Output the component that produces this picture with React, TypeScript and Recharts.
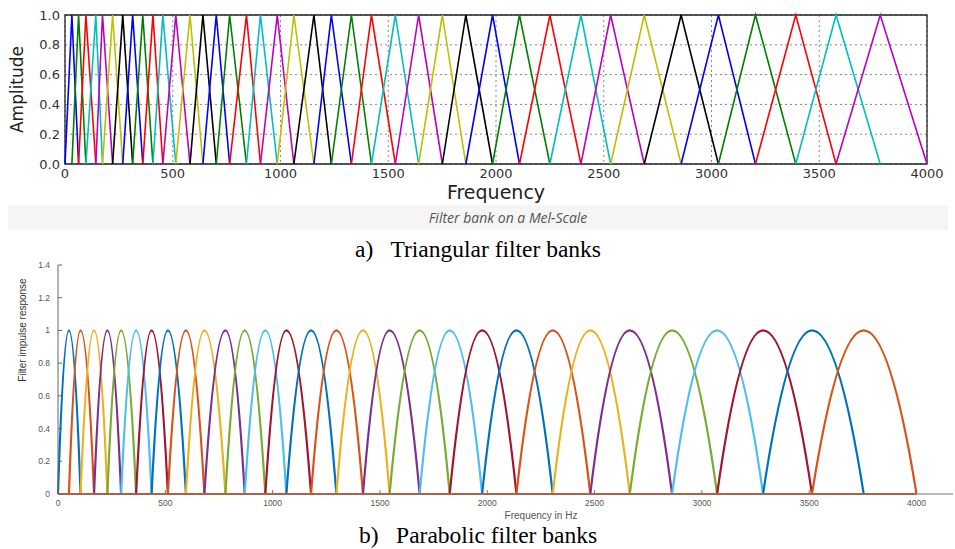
import React from 'react';
import { LineChart, Line, XAxis, YAxis, CartesianGrid, ReferenceArea, Label } from 'recharts';

// a) triangular mel filters: peak frequency (Hz) of each filter
const TRI_CENTERS = [
  32, 63, 97, 143, 174, 221, 268, 314, 361, 408, 454, 514, 580, 640, 702, 764, 842, 907, 985, 1062,
  1155, 1236, 1329, 1422, 1533, 1641, 1751, 1860, 1984, 2109, 2250, 2394, 2532, 2688, 2859, 3032,
  3204, 3391, 3578, 3783,
];
const TRI_COLORS = ['#0000ff', '#008000', '#ff0000', '#00bfbf', '#bf00bf', '#bfbf00', '#000000'];
const TRI_X_TICKS = [0, 500, 1000, 1500, 2000, 2500, 3000, 3500, 4000];
const TRI_Y_TICKS = [0, 0.2, 0.4, 0.6, 0.8, 1.0];

// b) parabolic filters: peak frequency (Hz) of each filter
const PARA_CENTERS = [
  51, 105, 168, 230, 294, 364, 436, 512, 596, 682, 780, 870, 966, 1064, 1179, 1297, 1421, 1545,
  1685, 1825, 1976, 2136, 2305, 2480, 2664, 2861, 3071, 3285, 3513, 3754,
];
const PARA_COLORS = ['#0072bd', '#d95319', '#edb120', '#7e2f8e', '#77ac30', '#4dbeee', '#a2142f'];
const PARA_X_TICKS = [0, 500, 1000, 1500, 2000, 2500, 3000, 3500, 4000];
const PARA_Y_TICKS = [0, 0.2, 0.4, 0.6, 0.8, 1, 1.2, 1.4];

// both banks cover 0..4000 Hz
const BAND_EDGES = [0, 4000];

type Pt = { x: number; y: number };

// each filter rises from the previous centre to its own peak and falls to the next centre
const makeBank = (centers: number[]): Pt[][] =>
  centers.map((c, i) => [
    { x: i === 0 ? BAND_EDGES[0] : centers[i - 1], y: 0 },
    { x: c, y: 1 },
    { x: i === centers.length - 1 ? BAND_EDGES[1] : centers[i + 1], y: 0 },
  ]);

const triBank = makeBank(TRI_CENTERS);
const paraBank = makeBank(PARA_CENTERS);
const baseline: Pt[] = BAND_EDGES.map((x) => ({ x, y: 0 }));

// d3-style curve: joins foot -> peak -> foot with half-parabolas (flat at the peak)
const parabolaCurve = (context: any) => {
  let pts: [number, number][] = [];
  return {
    areaStart() {},
    areaEnd() {},
    lineStart() {
      pts = [];
    },
    point(x: number, y: number) {
      pts.push([+x, +y]);
    },
    lineEnd() {
      if (!pts.length) return;
      context.moveTo(pts[0][0], pts[0][1]);
      for (let i = 1; i < pts.length; i++) {
        const [x0, y0] = pts[i - 1];
        const [x1, y1] = pts[i];
        const peakY = Math.min(y0, y1);
        context.quadraticCurveTo((x0 + x1) / 2, peakY, x1, y1);
      }
    },
  };
};

const mplTick = { fontSize: 13, fill: '#333', fontFamily: 'DejaVu Sans' };
const matlabTick = { fontSize: 8.5, fill: '#555', fontFamily: 'Liberation Sans, Arial' };

const TriangularChart = () => (
  <LineChart width={955} height={204} margin={{ top: 15, right: 28, bottom: 0, left: 0 }}>
    <CartesianGrid stroke="#888" strokeDasharray="2 3" />
    <XAxis
      dataKey="x"
      type="number"
      domain={[0, 4000]}
      ticks={TRI_X_TICKS}
      interval={0}
      height={40}
      axisLine={false}
      tickLine={false}
      tickSize={0}
      tickMargin={5}
      tick={mplTick}
    >
      <Label
        value="Frequency"
        position="insideBottom"
        offset={5}
        style={{ fontSize: 19, fill: '#222', fontFamily: 'DejaVu Sans' }}
      />
    </XAxis>
    <YAxis
      dataKey="y"
      type="number"
      domain={[0, 1]}
      ticks={TRI_Y_TICKS}
      interval={0}
      width={65}
      axisLine={false}
      tickLine={false}
      tickSize={0}
      tickMargin={5}
      tick={mplTick}
      tickFormatter={(v: number) => v.toFixed(1)}
    >
      <Label
        value="Amplitude"
        angle={-90}
        position="insideLeft"
        offset={17}
        style={{ fontSize: 17, fill: '#222', fontFamily: 'DejaVu Sans', textAnchor: 'middle' }}
      />
    </YAxis>
    {triBank.map((pts, i) => (
      <Line
        key={`tri-${i}`}
        data={pts}
        dataKey="y"
        type="linear"
        stroke={TRI_COLORS[i % TRI_COLORS.length]}
        strokeWidth={1.6}
        dot={false}
        activeDot={false}
        isAnimationActive={false}
      />
    ))}
    <ReferenceArea x1={0} x2={4000} y1={0} y2={1} fill="none" stroke="#222" strokeWidth={1.3} />
  </LineChart>
);

const ParabolicChart = () => (
  <LineChart width={955} height={259} margin={{ top: 10, right: 2, bottom: 0, left: 0 }}>
    <XAxis
      dataKey="x"
      type="number"
      domain={[0, 4170]}
      ticks={PARA_X_TICKS}
      interval={0}
      height={20}
      stroke="#777"
      tickSize={-4}
      tickMargin={10}
      tick={matlabTick}
    />
    <YAxis
      dataKey="y"
      type="number"
      domain={[0, 1.4]}
      ticks={PARA_Y_TICKS}
      interval={0}
      width={58}
      stroke="#666"
      tickSize={-4}
      tickMargin={12}
      tick={matlabTick}
      tickFormatter={(v: number) => String(Number(v.toFixed(1)))}
    />
    {paraBank.map((pts, i) => (
      <Line
        key={`para-${i}`}
        data={pts}
        dataKey="y"
        type={parabolaCurve as any}
        stroke={PARA_COLORS[i % PARA_COLORS.length]}
        strokeWidth={2.2}
        dot={false}
        activeDot={false}
        isAnimationActive={false}
      />
    ))}
    <Line
      data={baseline}
      dataKey="y"
      type="linear"
      stroke={PARA_COLORS[1]}
      strokeWidth={2}
      dot={false}
      activeDot={false}
      isAnimationActive={false}
    />
  </LineChart>
);

const centred = (cx: number, cy: number, h: number): React.CSSProperties => ({
  position: 'absolute',
  left: cx,
  top: cy - h / 2,
  height: h,
  lineHeight: `${h}px`,
  transform: 'translateX(-50%)',
  whiteSpace: 'pre',
});

export default function App() {
  return (
    <div style={{ position: 'absolute', left: 0, top: 0, width: 955, height: 549, background: '#fff', overflow: 'hidden' }}>
      <div style={{ position: 'absolute', left: 0, top: 0 }}>
        <TriangularChart />
      </div>
      <div style={{ position: 'absolute', left: 8, top: 205, width: 940, height: 25, background: '#f5f5f5' }} />
      <div
        style={{
          ...centred(508, 218, 20),
          fontFamily: 'Open Sans, sans-serif',
          fontStyle: 'italic',
          fontSize: 14,
          color: '#555',
        }}
      >
        Filter bank on a Mel-Scale
      </div>
      <div style={{ ...centred(478, 249, 26), fontFamily: 'Liberation Serif, serif', fontSize: 23.5, color: '#000' }}>
        {'a)   Triangular filter banks'}
      </div>
      <div style={{ position: 'absolute', left: 0, top: 255 }}>
        <ParabolicChart />
      </div>
      <div
        style={{
          position: 'absolute',
          left: 22,
          top: 330,
          transform: 'translate(-50%, -50%) rotate(-90deg)',
          whiteSpace: 'nowrap',
          fontFamily: 'Liberation Sans, Arial',
          fontSize: 10,
          color: '#333',
        }}
      >
        Filter impulse response
      </div>
      <div style={{ ...centred(541, 516, 14), fontFamily: 'Liberation Sans, Arial', fontSize: 10, color: '#555' }}>
        Frequency in Hz
      </div>
      <div style={{ ...centred(478, 535, 24), fontFamily: 'Liberation Serif, serif', fontSize: 23.5, color: '#000' }}>
        {'b)   Parabolic filter banks'}
      </div>
    </div>
  );
}
